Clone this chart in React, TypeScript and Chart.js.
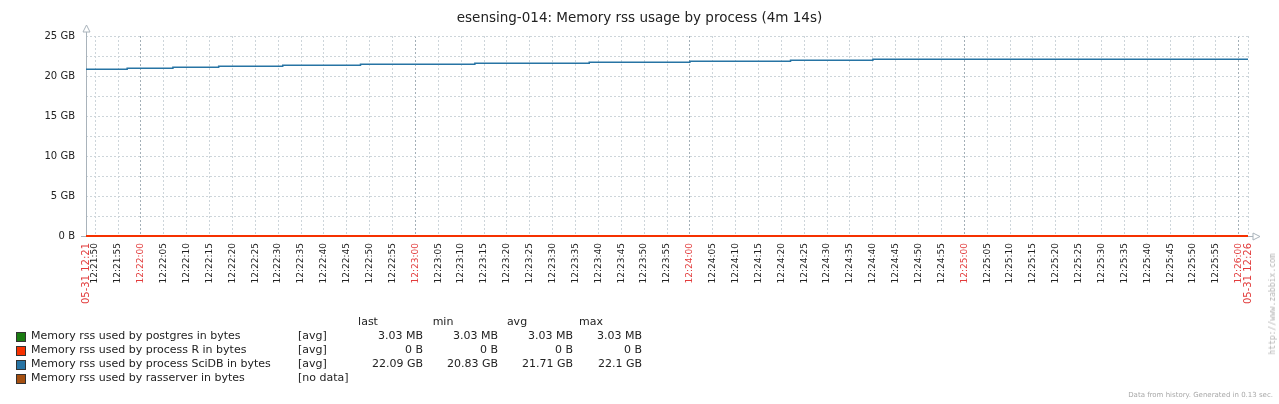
import React, { useEffect, useRef } from 'react';
import { Chart, registerables } from 'chart.js';

Chart.register(...registerables);

// ---------- data ----------
const chartTitle = 'esensing-014: Memory rss usage by process (4m 14s)';
const rangeStart = '12:21:48';
const rangeEnd = '12:26:02';
const startLabel = '05-31 12:21';
const endLabel = '05-31 12:26';
const firstTick = '12:21:50';
const lastTick = '12:26:00';

// values in GB
const sciDbTimes = ['12:21:48', '12:21:57', '12:22:07', '12:22:17', '12:22:31', '12:22:48', '12:23:13', '12:23:38', '12:24:00', '12:24:22', '12:24:40', '12:26:02'];
const sciDbValues = [20.83, 20.96, 21.08, 21.21, 21.33, 21.46, 21.58, 21.71, 21.84, 21.96, 22.09, 22.09];
const postgresTimes = ['12:21:48', '12:26:02'];
const postgresValues = [0.00303, 0.00303];
const processRTimes = ['12:21:48', '12:26:02'];
const processRValues = [0, 0];

const yMin = 0;
const yMax = 25;
const yStep = 2.5;

const legendNames = [
  'Memory rss used by postgres in bytes',
  'Memory rss used by process R in bytes',
  'Memory rss used by process SciDB in bytes',
  'Memory rss used by rasserver in bytes',
];
const legendColors = ['#1A7C11', '#F63100', '#2774A4', '#A54F10'];
const legendFuncs = ['[avg]', '[avg]', '[avg]', '[no data]'];
const statHeaders = ['last', 'min', 'avg', 'max'];
const lastValues = ['3.03 MB', '0 B', '22.09 GB', ''];
const minValues = ['3.03 MB', '0 B', '20.83 GB', ''];
const avgValues = ['3.03 MB', '0 B', '21.71 GB', ''];
const maxValues = ['3.03 MB', '0 B', '22.1 GB', ''];
const footerText = 'Data from history. Generated in 0.13 sec.';
const watermarkText = 'http://www.zabbix.com';

// ---------- helpers ----------
const FONT = '"DejaVu Sans", "Liberation Sans", sans-serif';
const toSec = (s: string) => {
  const [h, m, x] = s.split(':').map(Number);
  return h * 3600 + m * 60 + x;
};
const pad2 = (n: number) => String(n).padStart(2, '0');
const fmt = (v: number) => `${pad2(Math.floor(v / 3600))}:${pad2(Math.floor((v % 3600) / 60))}:${pad2(v % 60)}`;
const toPoints = (times: string[], values: number[]) => times.map((t, i) => ({ x: toSec(t), y: values[i] }));

const xMin = toSec(rangeStart);
const xMax = toSec(rangeEnd);
const RED = '#e23c3c';
const AXIS = '#a9b3bb';
const GRID_LIGHT = '#cdd5da';
const GRID_DARK = '#a3afb7';

const axisPlugin = {
  id: 'zbxAxes',
  beforeDatasetsDraw(chart: any) {
    const { ctx, chartArea } = chart;
    const { left, right, top, bottom } = chartArea;
    const lx = Math.round(left) + 0.5;
    const by = Math.round(bottom) + 0.5;
    ctx.save();
    ctx.strokeStyle = AXIS;
    ctx.lineWidth = 1;
    ctx.beginPath();
    ctx.moveTo(lx, by);
    ctx.lineTo(lx, top - 4);
    ctx.moveTo(lx, by);
    ctx.lineTo(right + 5, by);
    ctx.stroke();
    ctx.fillStyle = '#fff';
    ctx.beginPath();
    ctx.moveTo(lx, top - 11);
    ctx.lineTo(lx - 3.5, top - 4);
    ctx.lineTo(lx + 3.5, top - 4);
    ctx.closePath();
    ctx.fill();
    ctx.stroke();
    ctx.beginPath();
    ctx.moveTo(right + 12, by);
    ctx.lineTo(right + 5, by - 3.5);
    ctx.lineTo(right + 5, by + 3.5);
    ctx.closePath();
    ctx.fill();
    ctx.stroke();
    ctx.restore();
  },
};

export default function App() {
  const ref = useRef<HTMLCanvasElement | null>(null);

  useEffect(() => {
    if (!ref.current) return;
    const isRed = (v: number) => v === xMin || v === xMax || v % 60 === 0;
    const chart = new Chart(ref.current, {
      type: 'line',
      data: {
        datasets: [
          {
            label: legendNames[2],
            data: toPoints(sciDbTimes, sciDbValues),
            borderColor: legendColors[2],
            borderWidth: 1.5,
            stepped: true,
            pointRadius: 0,
            fill: false,
            clip: false,
            order: 0,
          },
          {
            label: legendNames[1],
            data: toPoints(processRTimes, processRValues),
            borderColor: legendColors[1],
            borderWidth: 2,
            stepped: true,
            pointRadius: 0,
            fill: false,
            clip: false,
            order: 1,
          },
          {
            label: legendNames[0],
            data: toPoints(postgresTimes, postgresValues),
            borderColor: legendColors[0],
            borderWidth: 2,
            stepped: true,
            pointRadius: 0,
            fill: false,
            clip: false,
            order: 2,
          },
          {
            label: legendNames[3],
            data: [],
            borderColor: legendColors[3],
            pointRadius: 0,
            order: 3,
          },
        ],
      },
      options: {
        responsive: false,
        animation: false,
        devicePixelRatio: 1,
        layout: { padding: 0 },
        plugins: {
          legend: { display: false },
          tooltip: { enabled: false },
          title: {
            display: true,
            text: chartTitle,
            color: '#222',
            font: { family: FONT, size: 13.5, weight: 'normal', lineHeight: 1.2 },
            padding: { top: 9.9, bottom: 9.9 },
          },
        },
        scales: {
          x: {
            type: 'linear',
            min: xMin,
            max: xMax,
            afterBuildTicks: (scale: any) => {
              const ticks = [{ value: xMin }];
              for (let v = toSec(firstTick); v <= toSec(lastTick); v += 5) ticks.push({ value: v });
              ticks.push({ value: xMax });
              scale.ticks = ticks;
            },
            afterFit: (scale: any) => {
              scale.height = 168;
            },
            grid: {
              drawTicks: false,
              lineWidth: 1,
              color: (c: any) => (c.tick && c.tick.value % 60 === 0 ? GRID_DARK : GRID_LIGHT),
            },
            border: { display: false, dash: [2, 2] },
            ticks: {
              autoSkip: false,
              minRotation: 90,
              maxRotation: 90,
              padding: 7,
              font: (c: any) => ({
                family: FONT,
                size: c.tick && (c.tick.value === xMin || c.tick.value === xMax) ? 10 : 9,
              }),
              color: (c: any) => (c.tick && isRed(c.tick.value) ? RED : '#222'),
              callback: (v: any) => {
                const n = Number(v);
                if (n === xMin) return startLabel;
                if (n === xMax) return endLabel;
                return fmt(n);
              },
            },
          },
          y: {
            type: 'linear',
            min: yMin,
            max: yMax,
            afterFit: (scale: any) => {
              scale.width = 86;
            },
            grid: {
              drawTicks: true,
              tickLength: 5,
              lineWidth: 1,
              color: GRID_LIGHT,
              tickColor: (c: any) => (c.tick && c.tick.value === 0 ? AXIS : 'rgba(0,0,0,0)'),
            },
            border: { display: false, dash: [2, 2] },
            ticks: {
              stepSize: yStep,
              padding: 6,
              font: { family: FONT, size: 10 },
              color: '#222',
              callback: (v: any) => {
                const n = Number(v);
                if (n % 5 !== 0) return '';
                return n === 0 ? '0 B' : `${n} GB`;
              },
            },
          },
          yRightGap: {
            type: 'linear',
            position: 'right',
            display: true,
            min: 0,
            max: 1,
            afterFit: (scale: any) => {
              scale.width = 31;
            },
            grid: { display: false, drawOnChartArea: false },
            border: { display: false },
            ticks: { display: false },
          },
        },
      },
      plugins: [axisPlugin],
    } as any);
    return () => chart.destroy();
  }, []);

  const rowY = (i: number) => 335.7 + 14 * i;
  const headerY = 321.7;
  const statCols = [lastValues, minValues, avgValues, maxValues];
  const statRight = [423, 498, 573, 642];
  const headerCenter = [368, 443, 517, 591];
  const txt: React.CSSProperties = {
    position: 'absolute',
    fontFamily: FONT,
    fontSize: 11,
    lineHeight: '14px',
    height: 14,
    color: '#222',
    whiteSpace: 'nowrap',
  };

  return (
    <div style={{ position: 'absolute', left: 0, top: 0, width: 1279, height: 404, background: '#fff', overflow: 'hidden' }}>
      <canvas ref={ref} width={1279} height={404} style={{ position: 'absolute', left: 0, top: 0, width: 1279, height: 404 }} />
      {statHeaders.map((h, j) => (
        <div key={'h' + j} style={{ ...txt, top: headerY - 7, left: headerCenter[j] - 40, width: 80, textAlign: 'center' }}>
          {h}
        </div>
      ))}
      {legendNames.map((name, i) => (
        <React.Fragment key={'r' + i}>
          <div
            style={{
              position: 'absolute',
              left: 16,
              top: rowY(i) - 4,
              width: 10,
              height: 10,
              boxSizing: 'border-box',
              background: legendColors[i],
              border: '1px solid #333',
            }}
          />
          <div style={{ ...txt, top: rowY(i) - 7, left: 31 }}>{name}</div>
          <div style={{ ...txt, top: rowY(i) - 7, left: 298 }}>{legendFuncs[i]}</div>
          {statCols.map((col, j) => (
            <div key={'s' + j} style={{ ...txt, top: rowY(i) - 7, left: statRight[j] - 100, width: 100, textAlign: 'right' }}>
              {col[i]}
            </div>
          ))}
        </React.Fragment>
      ))}
      <div
        style={{
          position: 'absolute',
          right: 6,
          top: 389,
          fontFamily: FONT,
          fontSize: 7,
          lineHeight: '12px',
          color: '#a8a8a8',
          whiteSpace: 'nowrap',
        }}
      >
        {footerText}
      </div>
      <div
        style={{
          position: 'absolute',
          left: 1273,
          top: 303.5,
          transform: 'translate(-50%, -50%) rotate(-90deg)',
          fontFamily: '"DejaVu Sans Mono", monospace',
          fontSize: 8,
          lineHeight: '10px',
          color: '#b4b4b4',
          whiteSpace: 'nowrap',
        }}
      >
        {watermarkText}
      </div>
    </div>
  );
}
